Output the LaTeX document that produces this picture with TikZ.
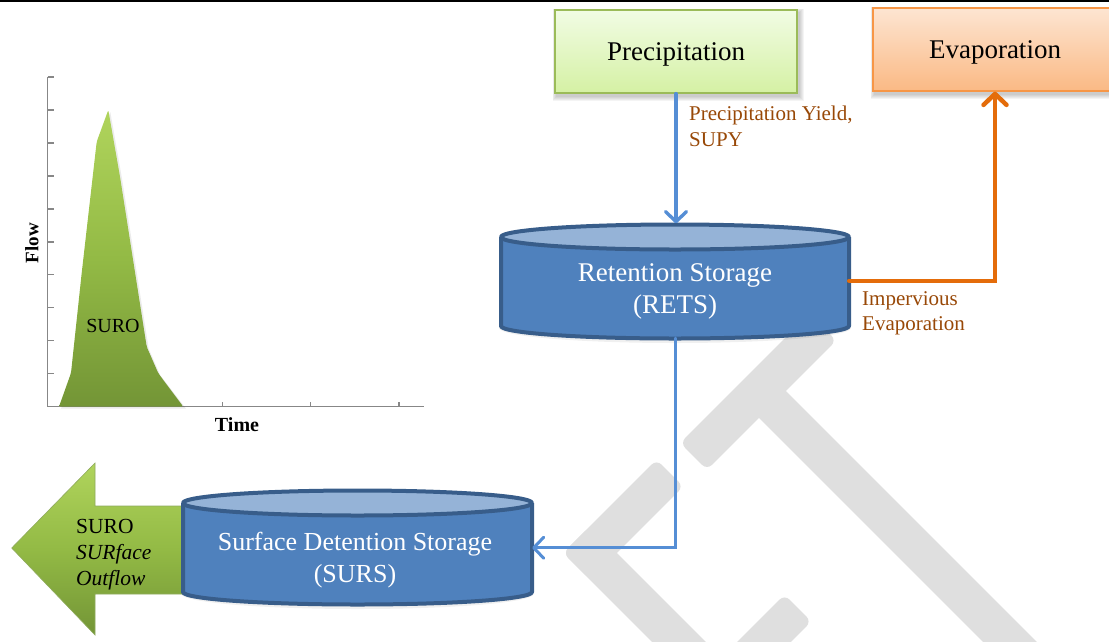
\documentclass[tikz,border=0pt]{standalone}
\usepackage{fontspec}
\setmainfont{Liberation Serif}
\usetikzlibrary{arrows.meta}

\definecolor{wmgray}{HTML}{DFDFDF}
\definecolor{axisgray}{HTML}{878787}
\definecolor{flowblue}{HTML}{558ED5}
\definecolor{evaporange}{HTML}{E46C0A}
\definecolor{labelbrown}{HTML}{984807}
\definecolor{tankbody}{HTML}{4F81BD}
\definecolor{tanktop}{HTML}{95B3D7}
\definecolor{tankedge}{HTML}{385D8A}
\definecolor{precedge}{HTML}{9BBB59}
\definecolor{prectop}{HTML}{F1FCE4}
\definecolor{precbot}{HTML}{D5F1A4}
\definecolor{evapedge}{HTML}{F79646}
\definecolor{evaptop}{HTML}{FDE5D2}
\definecolor{evapbot}{HTML}{FAB984}
\definecolor{leaftop}{HTML}{B0D45C}
\definecolor{leafmid}{HTML}{93BA45}
\definecolor{leafbot}{HTML}{739536}

% storage tank: centre x, top-ellipse y, bottom-ellipse y, x radius, y radius
\newcommand\tank[5]{%
  \fill[tankbody] ({#1-#4},#2) -- ({#1-#4},#3)
     arc[start angle=180,end angle=0,x radius=#4,y radius=#5] -- ({#1+#4},#2) -- cycle;
  \draw[tankline] ({#1-#4},#2) -- ({#1-#4},#3)
     arc[start angle=180,end angle=0,x radius=#4,y radius=#5] -- ({#1+#4},#2);
  \draw[tankline, fill=tanktop] (#1,#2) ellipse[x radius=#4, y radius=#5];
}
% soft shadow under a box: x1 y1 x2 y2
\newcommand\softshadow[4]{%
  \foreach \g in {1,...,5}{%
    \fill[black, opacity=0.045] ({#1+2-\g*0.9},{#2+3-\g*0.9}) rectangle ({#3+2+\g*0.9},{#4+3+\g*0.9});}%
}
% one bar of the emblem: start point, canvas angle, start offset, end offset
\newcommand\emblembar[4]{%
  \begin{scope}[shift={#1}, rotate=#2]
    \fill[wmgray, rounded corners=7pt] (#3,-19) rectangle (#4,19);
  \end{scope}%
}

\begin{document}
\begin{tikzpicture}[x=1pt,y=-1pt,
  tankline/.style={draw=tankedge, line width=4pt, line join=round},
  axisline/.style={draw=axisgray, line width=1.3pt},
  box/.style={rectangle, minimum width=242pt, minimum height=83pt, line width=1.3pt,
              inner sep=0pt, text depth=0pt, font=\fontsize{27}{32}\selectfont},
  tankframe/.style={rectangle, inner sep=0pt},
  tanktext/.style={inner sep=0pt, align=center, text=white},
  lbl/.style={inner sep=0pt, align=left, text=labelbrown, font=\fontsize{21}{25.5}\selectfont},
  flow/.style={draw=flowblue, line width=3.4pt, line cap=round,
               -{Straight Barb[length=10pt,width=21pt,round]}},
  evapflow/.style={draw=evaporange, line width=4.5pt, line cap=round,
               -{Straight Barb[length=11pt,width=23pt,round]}},
  leaf/.style={top color=leaftop, bottom color=leafbot, middle color=leafmid}
]
\useasboundingbox (0,0) rectangle (1109,641);

% rule along the top edge
\draw[line width=1.5pt] (0,0.75) -- (1109,0.75);

% faint background emblem
\begin{scope}
  \clip (0,0) rectangle (1109,641);
  \emblembar{(823,327)}{225}{0}{183}
  \emblembar{(760,392)}{-45}{0}{520}
  \emblembar{(670,473)}{225}{0}{132}
  \emblembar{(590,553)}{-45}{-19}{200}
  \emblembar{(798,608)}{225}{0}{120}
\end{scope}

% hydrograph axes and ticks
\draw[axisline] (47.5,77) -- (47.5,406.7) -- (424,406.7);
\foreach \k in {0,...,9}
  \draw[axisline] (47.5,{77+\k*32.97}) -- (53.5,{77+\k*32.97});
\foreach \t in {135,222.7,310.7,399}
  \draw[axisline] (\t,406.7) -- (\t,401.5);

% runoff hydrograph
\fill[black, opacity=0.08] (61,408.7) -- (73,375) -- (83.7,275) -- (98.7,143.7) -- (110.3,112)
  -- (122,178.7) -- (148.7,348.7) -- (160.3,375.3) -- (186,408.7) -- cycle;
\shade[leaf, rounded corners=2pt] (59,406.7) -- (71,373) -- (81.7,273) -- (96.7,141.7) -- (108.3,110)
  -- (120,176.7) -- (146.7,346.7) -- (158.3,373.3) -- (183.3,406.7) -- cycle;
\node[inner sep=0pt, font=\fontsize{20}{20}\selectfont] (hydrosuro) at (113,326) {SURO};
\node[rotate=90, inner sep=0pt, font=\bfseries\fontsize{19}{19}\selectfont] (flowlabel) at (32,243) {Flow};
\node[inner sep=0pt, font=\bfseries\fontsize{20}{20}\selectfont] (timelabel) at (237,425) {Time};

% input and output boxes
\softshadow{555}{10}{797}{93}
\softshadow{873}{8}{1117}{91}
\node[box, draw=precedge, top color=prectop, bottom color=precbot] (prec) at (676,51.5) {Precipitation};
\node[box, minimum width=244pt, draw=evapedge, top color=evaptop, bottom color=evapbot] (evap) at (995,49.5) {Evaporation};

% surface outflow block arrow
\shade[leaf, draw=leafbot!80, line width=0.6pt] (11.7,548) -- (95,463) -- (95,506) -- (195,506)
  -- (195,594) -- (95,594) -- (95,635) -- cycle;
\node[anchor=north west, inner sep=0pt, align=left, font=\fontsize{21.5}{26}\selectfont]
  (outflowlabel) at (76,519) {SURO\\\textit{SURface}\\\textit{Outflow}};

% storage tanks
\fill[black, opacity=0.06] (357.5,594) ellipse[x radius=176, y radius=15];
\fill[black, opacity=0.06] (675,328) ellipse[x radius=176, y radius=15];
\tank{357.5}{503}{592}{174.5}{12.5}
\tank{675}{237}{326}{174}{12.5}
\node[tankframe, minimum width=349pt, minimum height=114.5pt] (surs) at (357.5,547.75) {};
\node[tankframe, minimum width=348pt, minimum height=114.5pt] (rets) at (675,280.75) {};
\node[tanktext, anchor=north, font=\fontsize{26}{32}\selectfont] (surslabel) at (355,531.5)
  {Surface Detention Storage\\(SURS)};
\node[tanktext, anchor=north, font=\fontsize{27}{31.5}\selectfont] (retslabel) at (675,263.5)
  {Retention Storage\\(RETS)};

% fluxes
\draw[flow] (prec.south) -- (prec.south |- rets.north);
\draw[flow, line width=3pt] (rets.south) |- (surs.east);
\draw[evapflow] (rets.east) -| (evap.south);

\node[lbl, anchor=north west] (supylabel) at (689,106) {Precipitation Yield,\\SUPY};
\node[lbl, anchor=north west] (impervlabel) at (862,291) {Impervious\\Evaporation};
\end{tikzpicture}
\end{document}
